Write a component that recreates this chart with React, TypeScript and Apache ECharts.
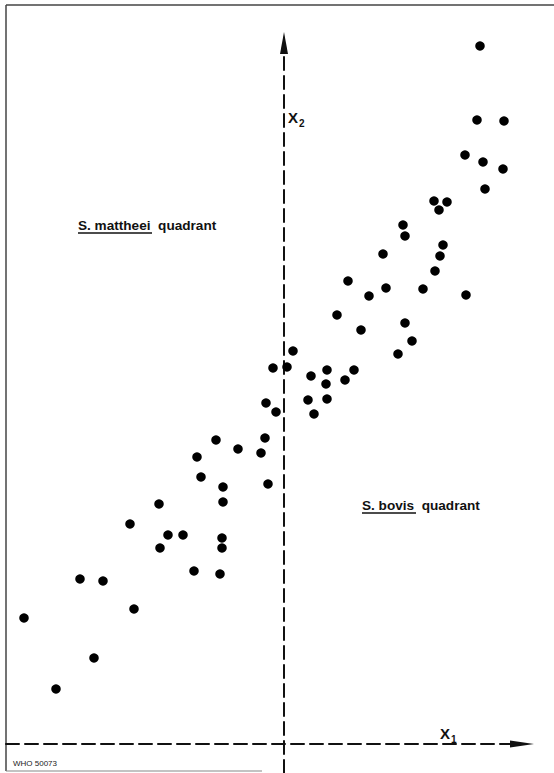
import React, { useEffect, useRef } from "react";
import * as echarts from "echarts";

// Scatter values (X1, X2)
const x1Values: number[] = [
  9.8, 9.65, 11.0, 9.05, 9.95, 10.95, 10.05, 7.5, 8.15, 7.75, 5.95, 6.05, 7.95, 4.95, 7.8, 7.55,
  3.2, 5.1, 6.95, 4.25, 9.1, 2.65, 6.05, 3.85, 6.4, 0.45, 5.7, 0.15, -0.55, 1.35, 2.15, 3.5, 3.05,
  2.1, 1.2, 2.15, 1.5, -0.9, -0.4, -3.4, -0.95, -2.3, -1.15, -4.35, -4.15, -3.05, -0.8, -6.25,
  -3.05, -7.7, -5.8, -5.05, -3.1, -6.2, -3.1, -4.5, -3.2, -9.05, -10.2, -7.5, -13.0, -9.5, -11.4,
];
const x2Values: number[] = [
  34.9, 31.2, 31.15, 29.45, 29.1, 28.75, 27.75, 27.15, 27.1, 26.7, 25.95, 25.4, 24.95, 24.5, 24.4,
  23.65, 23.15, 22.8, 22.75, 22.4, 22.45, 21.45, 21.05, 20.7, 20.15, 19.65, 19.5, 18.85, 18.8, 18.4,
  18.7, 18.7, 18.2, 18.0, 17.2, 17.25, 16.5, 17.05, 16.6, 15.2, 15.3, 14.75, 14.55, 14.35, 13.35,
  12.85, 13.0, 12.0, 12.1, 11.0, 10.45, 10.45, 10.3, 9.8, 9.8, 8.65, 8.5, 8.15, 8.25, 6.75, 6.3,
  4.3, 2.75,
];
const axisNames = { x1: "X", x1Sub: "1", x2: "X", x2Sub: "2" };
const quadrantLabels = {
  upperLeft: { species: "S. mattheei", word: "quadrant" },
  lowerRight: { species: "S. bovis", word: "quadrant" },
};
const figureCode = "WHO 50073";

const FONT = "'Liberation Sans', Arial, sans-serif";
const INK = "#111111";

export default function App() {
  const ref = useRef<HTMLDivElement>(null);
  useEffect(() => {
    document.body.style.margin = "0";
    if (!ref.current) return;
    const chart = echarts.init(ref.current, undefined, { renderer: "svg" });
    const data = x1Values.map((v, i) => [v, x2Values[i]]);
    const dash = [13, 6];
    const richX = {
      a: { fontSize: 15, fontWeight: "bold", fontFamily: FONT, fill: INK, color: INK, lineHeight: 18, verticalAlign: "top", padding: [0, 1, 5, 0] },
      b: { fontSize: 10, fontWeight: "bold", fontFamily: FONT, fill: INK, color: INK, lineHeight: 11, verticalAlign: "bottom" },
    };
    chart.setOption({
      animation: false,
      backgroundColor: "#ffffff",
      grid: { left: 6, right: 32, top: 43, bottom: 0, containLabel: false },
      xAxis: {
        type: "value",
        min: -13.9,
        max: 11.9,
        axisLine: {
          show: true,
          onZero: true,
          symbol: ["none", "triangle"],
          symbolSize: [7, 24],
          lineStyle: { color: INK, width: 2, type: dash },
        },
        axisTick: { show: false },
        axisLabel: { show: false },
        splitLine: { show: false },
      },
      yAxis: {
        type: "value",
        min: -1.45,
        max: 35.05,
        axisLine: {
          show: true,
          onZero: true,
          symbol: ["none", "triangle"],
          symbolSize: [8, 22],
          lineStyle: { color: INK, width: 2, type: dash },
        },
        axisTick: { show: false },
        axisLabel: { show: false },
        splitLine: { show: false },
      },
      series: [
        {
          type: "scatter",
          data,
          symbol: "circle",
          symbolSize: 9.5,
          itemStyle: { color: "#000000", opacity: 1 },
          silent: true,
        },
      ],
      graphic: [
        { type: "line", shape: { x1: 6, y1: 5, x2: 554, y2: 5 }, style: { stroke: "#444", lineWidth: 1.5 } },
        { type: "line", shape: { x1: 6, y1: 5, x2: 6, y2: 771 }, style: { stroke: "#444", lineWidth: 1.5 } },
        { type: "line", shape: { x1: 6, y1: 771, x2: 262, y2: 771 }, style: { stroke: "#888", lineWidth: 1.2 } },
        {
          type: "text",
          x: 288,
          y: 110,
          style: { text: `{a|${axisNames.x2}}{b|${axisNames.x2Sub}}`, fill: INK, rich: richX },
        },
        {
          type: "text",
          x: 440,
          y: 726,
          style: { text: `{a|${axisNames.x1}}{b|${axisNames.x1Sub}}`, fill: INK, rich: richX },
        },
        {
          type: "text",
          x: 78,
          y: 225,
          style: {
            text: `${quadrantLabels.upperLeft.species}  ${quadrantLabels.upperLeft.word}`,
            fontSize: 13.6,
            fontWeight: "bold",
            fontFamily: FONT,
            fill: INK,
            verticalAlign: "middle",
          },
        },
        { type: "line", shape: { x1: 78, y1: 233, x2: 152, y2: 233 }, style: { stroke: INK, lineWidth: 1.5 } },
        {
          type: "text",
          x: 362,
          y: 505,
          style: {
            text: `${quadrantLabels.lowerRight.species}  ${quadrantLabels.lowerRight.word}`,
            fontSize: 13.6,
            fontWeight: "bold",
            fontFamily: FONT,
            fill: INK,
            verticalAlign: "middle",
          },
        },
        { type: "line", shape: { x1: 362, y1: 513, x2: 416, y2: 513 }, style: { stroke: INK, lineWidth: 1.5 } },
        {
          type: "text",
          x: 13,
          y: 763,
          style: {
            text: figureCode,
            fontSize: 8,
            fontFamily: FONT,
            fill: "#222",
            verticalAlign: "middle",
          },
        },
      ],
    });
    return () => chart.dispose();
  }, []);
  return <div ref={ref} style={{ position: "absolute", left: 0, top: 0, width: 554, height: 773 }} />;
}
